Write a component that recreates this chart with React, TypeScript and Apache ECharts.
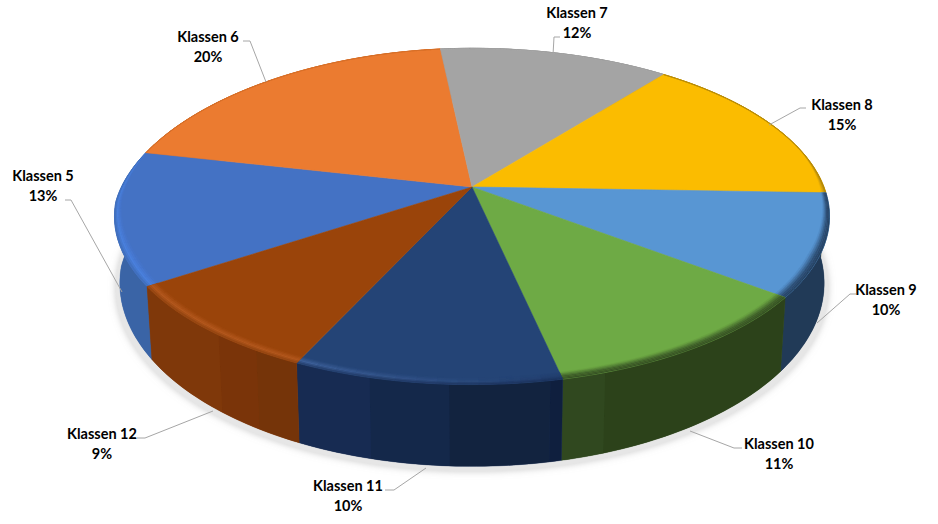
import React, { useEffect, useRef } from "react";
import * as echarts from "echarts";

const categories = ["Klassen 5", "Klassen 6", "Klassen 7", "Klassen 8", "Klassen 9", "Klassen 10", "Klassen 11", "Klassen 12"];
const shares = [12.8, 19.7, 12.4, 14.9, 9.8, 11.2, 10.3, 8.8];

// ---- styles ----
const topColors = ["#4472C4", "#EB7B30", "#A4A4A4", "#FBBC00", "#5896D3", "#6EAA45", "#244476", "#9A440A"];
const rimColors = ["#4A80DE", "#EB7B30", "#B4B4B4", "#C99A10", "#2E4F75", "#40602A", "#3F629C", "#B4591F"];
const rimFades = [[1, 1], [1, 1], [1, 1], [1, 1], [1, 1], [1, 1], [0.05, 1], [1, 1]];
const sideBands: { to: number; color: string }[][] = [
  [{ to: 1, color: "#3A64A6" }],
  [{ to: 1, color: "#B05A20" }],
  [{ to: 1, color: "#7A7A7A" }],
  [{ to: 1, color: "#8F6C00" }],
  [{ to: 1, color: "#213A57" }],
  [{ to: 0.85, color: "#2C421A" }, { to: 1, color: "#30481F" }],
  [{ to: 0.046, color: "#0F1F3E" }, { to: 0.415, color: "#12233F" }, { to: 0.709, color: "#14284A" }, { to: 1, color: "#172B52" }],
  [{ to: 0.21, color: "#753409" }, { to: 0.43, color: "#7A3409" }, { to: 1, color: "#7F380A" }],
];

// ---- layout ----
const START_ANGLE = -123.5;
const CX = 472, CY = 187, A = 352, B = 163, K = 0.175, RIM = 0.03, RIM_STEPS = 6, BACK_LEFT_INSET = 8.5;
const labelCenters: number[][] = [[43, 175], [208, 36], [577, 12], [842, 104], [886, 289], [779, 443], [348, 485], [102, 433]];
const leaders: number[][][] = [
  [[65, 200], [71, 200], [122, 292]],
  [[243, 41], [250, 41], [266, 82]],
  [[560, 37], [554, 37], [553, 55]],
  [[806, 108], [800, 108], [769, 125]],
  [[856, 294], [850, 294], [817, 323]],
  [[742, 448], [734, 448], [690, 431]],
  [[385, 490], [394, 490], [426, 468]],
  [[137, 438], [145, 438], [213, 411]],
];

const total = shares.reduce((a, b) => a + b, 0);
const startOf = (i: number) => START_ANGLE + (shares.slice(0, i).reduce((a, b) => a + b, 0) / total) * 360;
const endOf = (i: number) => startOf(i) + (shares[i] / total) * 360;

function top(deg: number, r = 1): number[] {
  const t = (deg * Math.PI) / 180;
  const xp = r * Math.sin(t), yp = -r * Math.cos(t);
  const f = 1 / (1 - K * yp);
  // the reference's disc is a little flatter at its back left
  const inset = deg > -95 && deg < 0 ? BACK_LEFT_INSET * Math.sin((((deg + 95) / 95) * Math.PI)) : 0;
  return [CX + A * xp * f + inset, CY + B * yp * f];
}
function bottom(deg: number): number[] {
  const [x, y] = top(deg);
  return [CX + (x - CX) * 0.985, CY + 64 + (y - CY) * 1.09];
}
function arc(a: number, b: number, fn: (d: number) => number[]): number[][] {
  const n = Math.max(2, Math.ceil(Math.abs(b - a)));
  const pts: number[][] = [];
  for (let j = 0; j <= n; j++) pts.push(fn(a + ((b - a) * j) / n));
  return pts;
}
function hex(c: string) {
  return [1, 3, 5].map((p) => parseInt(c.slice(p, p + 2), 16));
}
function toHex(v: number[]) {
  return "#" + v.map((x) => Math.round(x).toString(16).padStart(2, "0")).join("");
}
function mix(c1: string, c2: string, t: number) {
  const a = hex(c1), b = hex(c2);
  return toHex(a.map((v, i) => v + (b[i] - v) * t));
}
function poly(points: number[][], fill: string, lw = 0.6) {
  return { type: "polygon", shape: { points }, style: { fill, stroke: fill, lineWidth: lw }, silent: true };
}
// rim width: none at the back of the disc, full at the front
function rimWidth(deg: number) {
  const yp = -Math.cos((deg * Math.PI) / 180);
  return RIM * Math.max(0.08, Math.min(1, 0.4 + yp * 1.5));
}

function renderShadow(params: any) {
  if (params.dataIndex !== 0) return { type: "group", children: [] };
  const pts = arc(0, 360, (d) => {
    const [x, y] = bottom(d);
    return [CX + (x - CX) * 1.012, y + 5];
  });
  return {
    type: "polygon",
    shape: { points: pts },
    style: { fill: "#E6E6E6", shadowBlur: 7, shadowColor: "rgba(190,190,190,0.8)" },
    silent: true,
  };
}

function renderSide(params: any) {
  const i = params.dataIndex;
  const s = startOf(i), e = endOf(i), span = e - s;
  const last = sideBands[i][sideBands[i].length - 1].color;
  const children: any[] = [poly([...arc(s, e, (d) => top(d)), ...arc(e, s, bottom)], last, 0.4)];
  let from = 0;
  sideBands[i].forEach((band) => {
    const a = s + span * from, b = s + span * band.to;
    from = band.to;
    children.push({
      type: "polygon",
      shape: { points: [...arc(a, b, (d) => top(d)), ...arc(b, a, bottom)] },
      style: { fill: band.color },
      silent: true,
    });
  });
  return { type: "group", children };
}

function renderTop(params: any) {
  const i = params.dataIndex;
  const a = startOf(i), b = endOf(i);
  const sideColor = sideBands[i][sideBands[i].length - 1].color;
  const base = poly([[CX, CY], ...arc(a, b, (d) => top(d))], topColors[i]);
  const children: any[] = [base];
  const segs = Math.max(2, Math.ceil((b - a) / 3));
  for (let k = 0; k < segs; k++) {
    const p = a + ((b - a) * k) / segs, q = a + ((b - a) * (k + 1)) / segs;
    const fade = rimFades[i][0] + (rimFades[i][1] - rimFades[i][0]) * ((k + 0.5) / segs);
    const rim = mix(mix(topColors[i], sideColor, 0.35), rimColors[i], fade);
    for (let j = 0; j < RIM_STEPS; j++) {
      const t = (j + 0.5) / RIM_STEPS;
      const c = t < 0.6 ? mix(topColors[i], rim, t / 0.6) : mix(rim, sideColor, ((t - 0.6) / 0.4) * 0.7);
      const f0 = 1 - j / RIM_STEPS, f1 = 1 - (j + 1) / RIM_STEPS;
      children.push(
        poly(
          [
            ...arc(p, q, (d) => top(d, 1 - rimWidth(d) * f1)),
            ...arc(q, p, (d) => top(d, 1 - rimWidth(d) * f0)),
          ],
          c,
          0.3
        )
      );
    }
  }
  return { type: "group", children };
}

function renderLabel(params: any) {
  const i = params.dataIndex;
  return {
    type: "group",
    children: [
      {
        type: "polyline",
        shape: { points: leaders[i] },
        style: { fill: "none", stroke: "#A6A6A6", lineWidth: 1 },
        silent: true,
      },
      {
        type: "text",
        silent: true,
        style: {
          x: labelCenters[i][0],
          y: labelCenters[i][1] - 10,
          text: categories[i] + "\n" + Math.round(shares[i]) + "%",
          align: "center",
          verticalAlign: "top",
          fill: "#000000",
          font: 'bold 14.5px Lato, sans-serif',
          lineHeight: 20,
        },
      },
    ],
  };
}

export default function App() {
  const ref = useRef<HTMLDivElement>(null);
  useEffect(() => {
    const chart = echarts.init(ref.current!, null, { renderer: "svg" });
    const data = categories.map((name, i) => ({ name, value: shares[i] }));
    const mk = (renderItem: any, z: number) => ({
      type: "custom",
      coordinateSystem: "none",
      data,
      renderItem,
      z,
      silent: true,
    });
    chart.setOption({
      animation: false,
      backgroundColor: "#ffffff",
      series: [mk(renderShadow, 1), mk(renderSide, 2), mk(renderTop, 3), mk(renderLabel, 4)],
    });
    return () => chart.dispose();
  }, []);
  return <div ref={ref} style={{ position: "fixed", left: 0, top: 0, width: 938, height: 524 }} />;
}
